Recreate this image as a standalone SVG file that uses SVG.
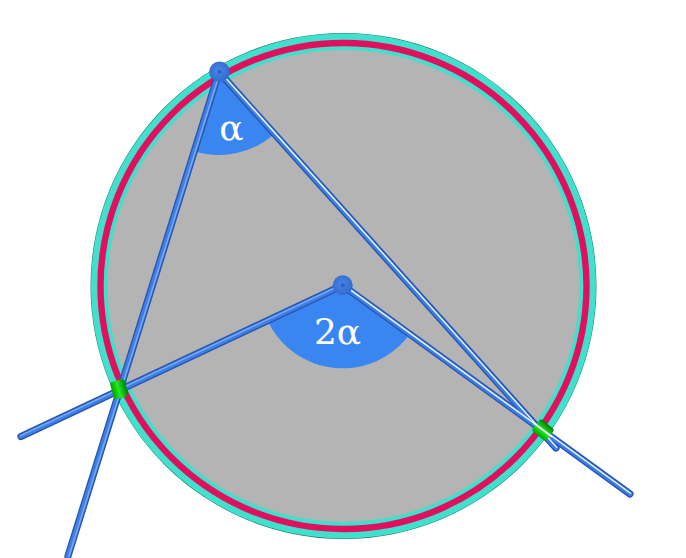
<svg xmlns="http://www.w3.org/2000/svg" width="686" height="558" viewBox="0 0 686 558">
<style>
.base{fill:none;stroke:#2655ae;stroke-width:7.2;stroke-linecap:round}
.mid{fill:none;stroke:#3d7ee8;stroke-width:4.6;stroke-linecap:round}
.hi{fill:none;stroke:#f2f7ff;stroke-width:1.4;stroke-linecap:round}
.hisoft{fill:none;stroke:#7eaaf2;stroke-width:1.4;stroke-linecap:round}
.sector{fill:#3a86f0}
</style>
<defs>
<radialGradient id="dot" cx="0.45" cy="0.45" r="0.6">
<stop offset="0" stop-color="#4a86e6"/>
<stop offset="1" stop-color="#3068cc"/>
</radialGradient>
<linearGradient id="grn" x1="0" y1="0" x2="1" y2="0">
<stop offset="0" stop-color="#00a000"/>
<stop offset="0.45" stop-color="#22ea22"/>
<stop offset="1" stop-color="#008000"/>
</linearGradient>
</defs>
<g id="circle">
<circle cx="343.5" cy="286" r="253" fill="#2a7a70"/>
<circle cx="343.5" cy="286" r="244.2" fill="#b4b4b4" stroke="#40e0cc" stroke-width="16.6"/>
<circle cx="343.5" cy="286" r="243" fill="none" stroke="#e0105e" stroke-width="6.4"/>
</g>
<g id="angle-alpha">
<path class="sector" d="M219,72 L274.5,133.7 A83,83 0 0,1 194.3,151.2 Z"/>
</g>
<g id="angle-2alpha">
<path class="sector" d="M342.7,285.3 L409.9,334 A83,83 0 0,1 267.6,320.6 Z"/>
</g>
<g id="connectors">
<line class="base" x1="219" y1="72" x2="68" y2="556"/>
<line class="base" x1="342.7" y1="285.3" x2="21" y2="436.5"/>
<line class="base" x1="219" y1="72" x2="556" y2="448"/>
<line class="base" x1="342.7" y1="285.3" x2="630" y2="494"/>
<line class="mid" x1="219" y1="72" x2="68" y2="556"/>
<line class="mid" x1="342.7" y1="285.3" x2="21" y2="436.5"/>
<line class="mid" x1="219" y1="72" x2="556" y2="448"/>
<line class="mid" x1="342.7" y1="285.3" x2="630" y2="494"/>
<line class="hisoft" x1="220" y1="72.3" x2="69" y2="556.3"/>
<line class="hisoft" x1="342.3" y1="284.4" x2="20.6" y2="435.6"/>
<line class="hi" x1="219.7" y1="71.4" x2="556.7" y2="447.4"/>
<line class="hi" x1="343.2" y1="284.6" x2="630.5" y2="493.3"/>
</g>
<g id="point-A">
<circle cx="219.5" cy="71.7" r="10.3" fill="url(#dot)"/>
<circle cx="219.5" cy="71.7" r="2" fill="#2d5fc0"/>
</g>
<g id="point-O">
<circle cx="342.7" cy="285.3" r="10" fill="url(#dot)"/>
<circle cx="342.7" cy="285.3" r="2" fill="#2d5fc0"/>
</g>
<g id="point-B">
<rect x="111.7" y="380.2" width="15" height="18" rx="3" fill="url(#grn)" transform="rotate(-15 119.2 389.2)"/>
</g>
<g id="point-C">
<rect x="535.5" y="421" width="15" height="18" rx="3" fill="url(#grn)" transform="rotate(-50 543 430)"/>
<line x1="534" y1="423.2" x2="552" y2="436.8" stroke="#f4fff4" stroke-width="1.8"/>
</g>
<g id="labels" font-family="'DejaVu Serif', 'Liberation Serif', serif" font-size="36" fill="#ffffff" text-anchor="middle">
<text x="231.5" y="140">α</text>
<text x="337.5" y="344">2α</text>
</g>
</svg>
